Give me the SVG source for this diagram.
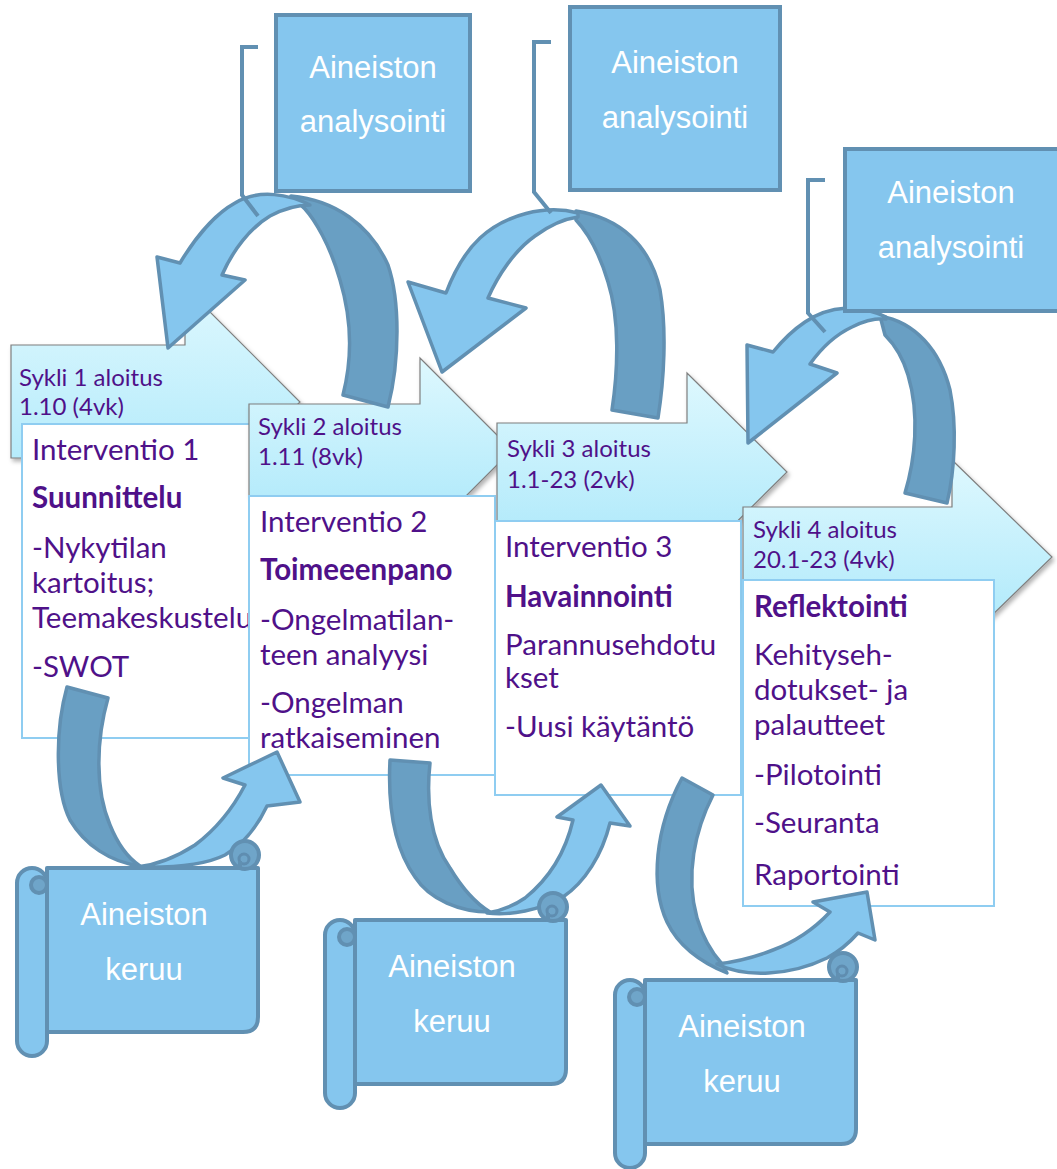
<svg xmlns="http://www.w3.org/2000/svg" xmlns:xlink="http://www.w3.org/1999/xlink" width="1057" height="1169" viewBox="0 0 1057 1169">
  <defs>
    <linearGradient id="chevFill" x1="0" y1="0" x2="0" y2="1">
      <stop offset="0" stop-color="#def8fe"/>
      <stop offset="1" stop-color="#a8e7fa"/>
    </linearGradient>
    <filter id="softShadow" x="-10%" y="-10%" width="130%" height="130%">
      <feDropShadow dx="2" dy="3" stdDeviation="2" flood-color="#000" flood-opacity="0.3"/>
    </filter>
    <!-- scroll shape in local coordinates: tube on the left, roll at top right -->
    <g id="scroll">
      <path class="sc" d="M30,0 H241 V149 Q241,164 226,164 H30 Z"/>
      <rect class="sc" x="0" y="0" width="30" height="188" rx="15"/>
      <circle class="scd" cx="22" cy="17" r="8"/>
      <path class="scl" d="M30,17 V164"/>
      <circle class="scd" cx="228" cy="-13" r="14"/>
      <circle class="scc" cx="227" cy="-9" r="5"/>
      <path class="scl" d="M223,-7 V0"/>
    </g>
  </defs>
  <style>
    .chev { fill: url(#chevFill); stroke: #7f7f7f; stroke-width: 1.2; filter: url(#softShadow); }
    .tbox { fill: #ffffff; stroke: #8fcdf1; stroke-width: 2; }
    .ctxt { font-family: Lato, "Noto Sans", sans-serif; font-size: 24px; fill: #4f1189; }
    .btxt { font-family: Lato, "Noto Sans", sans-serif; font-size: 29.5px; fill: #4f1189; }
    .bold { font-weight: bold; }
    .blk { fill: #85c6ee; stroke: #6190b2; stroke-width: 4; }
    .wtxt { font-family: "Liberation Sans", Arial, sans-serif; font-size: 31px; fill: #ffffff; text-anchor: middle; }
    .brk { fill: none; stroke: #6190b2; stroke-width: 4; }
    .arL { fill: #85c6ee; stroke: #6190b2; stroke-width: 3.5; stroke-linejoin: round; }
    .arD { fill: #699fc3; stroke: #6190b2; stroke-width: 3.5; stroke-linejoin: round; }
    .sc { fill: #85c6ee; stroke: #6190b2; stroke-width: 4; stroke-linejoin: round; }
    .scd { fill: #6fa5c9; stroke: #6190b2; stroke-width: 4; }
    .scc { fill: #6fa5c9; stroke: #5f8db0; stroke-width: 3; }
    .scl { fill: none; stroke: #6190b2; stroke-width: 4; }
  </style>

  <rect width="1057" height="1169" fill="#ffffff"/>

  <!-- cycle 1 -->
  <g id="cycle1">
    <polygon class="chev" points="11,345 185,345 185,287 300,402 185,517 185,458 11,458"/>
    <text class="ctxt" x="19" y="386">Sykli 1 aloitus</text>
    <text class="ctxt" x="19" y="415">1.10 (4vk)</text>
  </g>
  <g id="intervention1">
    <rect class="tbox" x="22" y="424" width="240" height="314"/>
    <text class="btxt" x="32" y="460">Interventio 1</text>
    <text class="btxt bold" x="32" y="508">Suunnittelu</text>
    <text class="btxt" x="32" y="558">-Nykytilan</text>
    <text class="btxt" x="32" y="593">kartoitus;</text>
    <text class="btxt" x="32" y="628">Teemakeskustelu</text>
    <text class="btxt" x="32" y="677">-SWOT</text>
  </g>

  <!-- cycle 2 -->
  <g id="cycle2">
    <polygon class="chev" points="249,404 420,404 420,358 512,450 420,542 420,496 249,496"/>
    <text class="ctxt" x="258" y="435">Sykli 2 aloitus</text>
    <text class="ctxt" x="258" y="465">1.11 (8vk)</text>
  </g>
  <g id="intervention2">
    <rect class="tbox" x="249" y="496" width="246" height="279"/>
    <text class="btxt" x="260" y="532">Interventio 2</text>
    <text class="btxt bold" x="260" y="580">Toimeeenpano</text>
    <text class="btxt" x="260" y="630">-Ongelmatilan-</text>
    <text class="btxt" x="260" y="665">teen analyysi</text>
    <text class="btxt" x="260" y="713">-Ongelman</text>
    <text class="btxt" x="260" y="748">ratkaiseminen</text>
  </g>

  <!-- cycle 3 -->
  <g id="cycle3">
    <polygon class="chev" points="497,423 687,423 687,373 787,472 687,571 687,521 497,521"/>
    <text class="ctxt" x="507" y="457">Sykli 3 aloitus</text>
    <text class="ctxt" x="507" y="488">1.1-23 (2vk)</text>
  </g>
  <g id="intervention3">
    <rect class="tbox" x="495" y="521" width="246" height="274"/>
    <text class="btxt" x="505" y="557">Interventio 3</text>
    <text class="btxt bold" x="505" y="607">Havainnointi</text>
    <text class="btxt" x="505" y="655">Parannusehdotu</text>
    <text class="btxt" x="505" y="688">kset</text>
    <text class="btxt" x="505" y="737">-Uusi käytäntö</text>
  </g>

  <!-- cycle 4 -->
  <g id="cycle4">
    <polygon class="chev" points="743,507 952,507 952,460 1052,557 952,654 952,607 743,607"/>
    <text class="ctxt" x="753" y="538">Sykli 4 aloitus</text>
    <text class="ctxt" x="753" y="568">20.1-23 (4vk)</text>
  </g>
  <g id="intervention4">
    <rect class="tbox" x="743" y="580" width="251" height="326"/>
    <text class="btxt bold" x="754" y="617">Reflektointi</text>
    <text class="btxt" x="754" y="665">Kehityseh-</text>
    <text class="btxt" x="754" y="700">dotukset- ja</text>
    <text class="btxt" x="754" y="735">palautteet</text>
    <text class="btxt" x="754" y="785">-Pilotointi</text>
    <text class="btxt" x="754" y="833">-Seuranta</text>
    <text class="btxt" x="754" y="885">Raportointi</text>
  </g>

  <!-- connectors: curved arrows (dark back face, light front face) -->
  <g id="connectors">
    <g id="loop-analysis-1">
      <path class="arD" d="M291,196 C335,200 370,225 388,265 C400,300 400,360 388,407 L343,395 C352,360 352,320 340,280 C330,245 315,220 305,209 Z"/>
      <path class="arL" d="M310,205 C290,195 260,188 235,203 C215,214 195,238 180,263 L157,257 L168,348 L245,280 L222,275 C233,250 250,228 270,216 C285,208 298,205 310,205 Z"/>
    </g>
    <g id="loop-analysis-2">
      <path class="arD" d="M576,211 C620,218 650,245 660,290 C667,330 664,380 658,418 L612,410 C618,370 620,320 608,282 C600,255 590,235 576,220 Z"/>
      <path class="arL" d="M578,213 C545,204 505,215 480,238 C465,252 454,272 446,293 L408,282 L442,372 L526,308 L488,298 C498,275 515,250 535,236 C550,225 563,219 578,217 Z"/>
    </g>
    <g id="loop-analysis-3">
      <path class="arD" d="M880,316 C915,322 940,350 950,390 C957,425 955,470 947,503 L905,493 C915,460 920,415 908,375 C903,358 895,345 885,335 Z"/>
      <path class="arL" d="M886,317 C860,304 830,305 805,322 C793,330 782,341 773,352 L747,345 L748,443 L837,373 L810,364 C820,350 835,335 852,327 C864,321 875,318 886,319 Z"/>
    </g>
    <g id="loop-collection-1">
      <path class="arD" d="M67,687 L108,698 C96,740 95,790 110,825 C118,845 128,858 140,866 C110,862 85,845 70,820 C55,790 55,730 67,687 Z"/>
      <path class="arL" d="M137,867 C175,868 205,865 225,855 C245,843 258,825 267,806 L300,802 L277,752 L223,778 L245,785 C232,810 215,830 195,845 C175,858 155,865 137,867 Z"/>
    </g>
    <g id="loop-collection-2">
      <path class="arD" d="M390,760 L430,763 C426,800 430,840 450,868 C462,888 475,903 490,912 C460,912 430,900 415,877 C392,845 388,800 390,760 Z"/>
      <path class="arL" d="M487,913 C510,916 540,910 563,897 C585,882 602,855 610,823 L630,826 L601,785 L557,817 L573,820 C566,850 550,878 525,898 C512,907 500,911 487,913 Z"/>
    </g>
    <g id="loop-collection-3">
      <path class="arD" d="M682,778 L713,795 C695,830 685,875 697,918 C703,938 712,953 722,964 L727,973 C700,962 678,945 667,922 C650,885 655,828 682,778 Z"/>
      <path class="arL" d="M717,964 C745,978 790,976 827,958 C840,951 850,942 858,933 L875,940 L867,892 L813,902 L830,912 C815,928 795,942 773,950 C755,957 735,962 717,964 Z"/>
    </g>
  </g>

  <!-- analysis blocks with their bracket leads -->
  <g id="analysis1">
    <rect class="blk" x="276" y="15" width="194" height="176"/>
    <text class="wtxt" x="373" y="78">Aineiston</text>
    <text class="wtxt" x="373" y="132">analysointi</text>
    <path class="brk" d="M258,47 H242 V195 L258,216"/>
  </g>
  <g id="analysis2">
    <rect class="blk" x="570" y="7" width="210" height="183"/>
    <text class="wtxt" x="675" y="73">Aineiston</text>
    <text class="wtxt" x="675" y="128">analysointi</text>
    <path class="brk" d="M551,42 H534 V192 L551,213"/>
  </g>
  <g id="analysis3">
    <rect class="blk" x="845" y="149" width="230" height="162"/>
    <text class="wtxt" x="951" y="203">Aineiston</text>
    <text class="wtxt" x="951" y="258">analysointi</text>
    <path class="brk" d="M825,180 H808 V313 L825,332"/>
  </g>

  <!-- data collection scrolls -->
  <g id="collection1">
    <use xlink:href="#scroll" transform="translate(17,868)"/>
    <text class="wtxt" x="144" y="925">Aineiston</text>
    <text class="wtxt" x="144" y="980">keruu</text>
  </g>
  <g id="collection2">
    <use xlink:href="#scroll" transform="translate(325,920)"/>
    <text class="wtxt" x="452" y="977">Aineiston</text>
    <text class="wtxt" x="452" y="1032">keruu</text>
  </g>
  <g id="collection3">
    <use xlink:href="#scroll" transform="translate(615,980)"/>
    <text class="wtxt" x="742" y="1037">Aineiston</text>
    <text class="wtxt" x="742" y="1092">keruu</text>
  </g>
</svg>
